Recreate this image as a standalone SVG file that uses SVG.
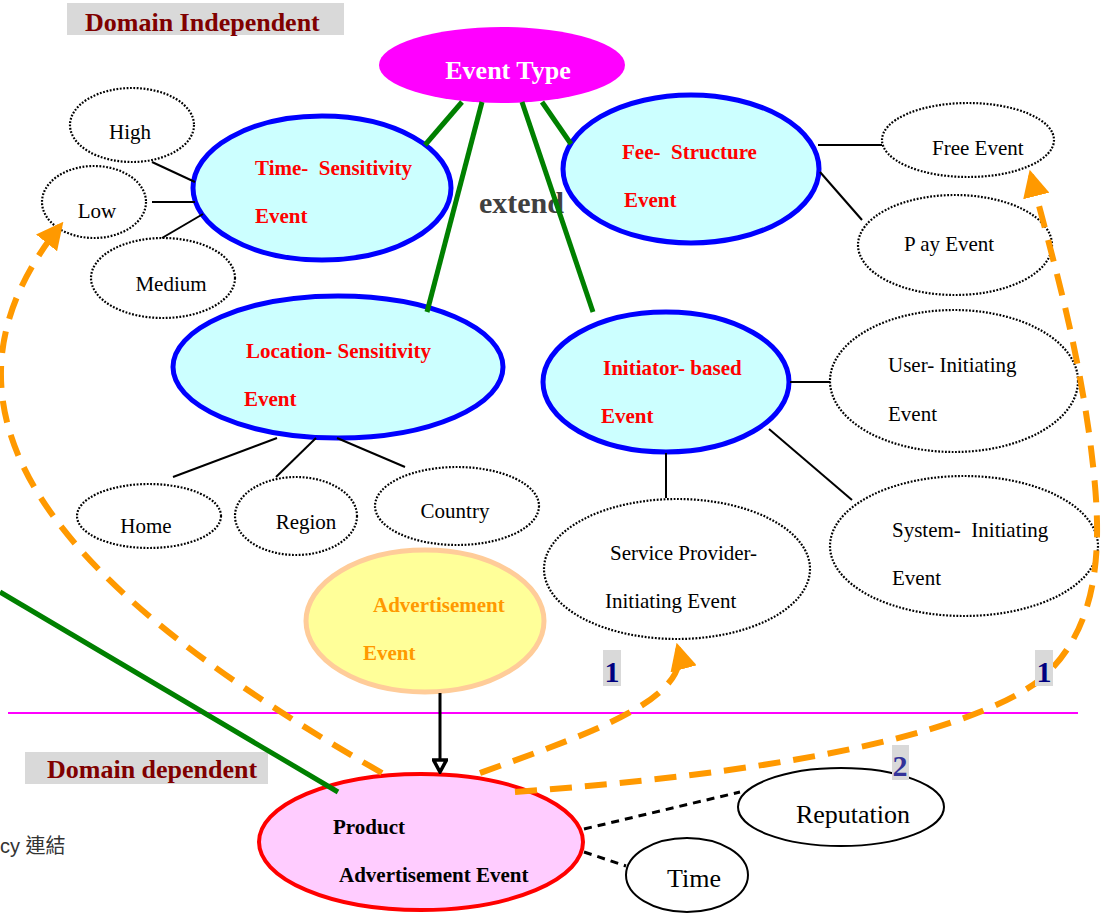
<svg xmlns="http://www.w3.org/2000/svg" width="1102" height="913" viewBox="0 0 1102 913">
  <style>
    text { font-family: "Liberation Serif", "Times New Roman", serif; }
    .cat { fill: #ccffff; stroke: #0000ff; stroke-width: 5; }
    .leaf { fill: #ffffff; stroke: #000000; stroke-width: 2.2; stroke-dasharray: 1.8 1.6; }
    .plain { fill: #ffffff; stroke: #000000; stroke-width: 2; }
    .catTxt { font-size: 21px; font-weight: bold; fill: #ff0000; }
    .leafTxt { font-size: 21px; fill: #000000; }
    .bigTxt { font-size: 26px; fill: #000000; }
    .band { fill: #d9d9d9; }
    .bandTxt { font-size: 26px; font-weight: bold; fill: #800000; }
    .num { font-size: 30px; font-weight: bold; fill: #000080; }
    .ext { stroke: #008000; stroke-width: 5; fill: none; }
    .thin { stroke: #000000; stroke-width: 2; fill: none; }
    .dash { stroke: #000000; stroke-width: 3; fill: none; stroke-dasharray: 8 6; }
    .ref { stroke: #ff9900; stroke-width: 6; fill: none; stroke-dasharray: 22 13; }
  </style>
  <defs>
    <marker id="orangeHead" viewBox="0 0 10 10" refX="8" refY="5" markerWidth="4.5" markerHeight="4.5" orient="auto" markerUnits="strokeWidth">
      <path d="M0,0 L10,5 L0,10 Z" fill="#ff9900"/>
    </marker>
    <marker id="blackHead" viewBox="0 0 16 16" refX="14" refY="8" markerWidth="16" markerHeight="16" orient="auto" markerUnits="userSpaceOnUse">
      <path d="M2,1.5 L14,8 L2,14.5 Z" fill="#ffffff" stroke="#000000" stroke-width="3.5" stroke-linejoin="miter"/>
    </marker>
  </defs>

  <rect width="1102" height="913" fill="#ffffff"/>

  <!-- section labels -->
  <g id="label-domain-independent">
    <rect class="band" x="67" y="3" width="277" height="32"/>
    <text class="bandTxt" x="85" y="31">Domain Independent</text>
  </g>
  <g id="label-domain-dependent">
    <rect class="band" x="25" y="752" width="243" height="32"/>
    <text class="bandTxt" x="47" y="778">Domain dependent</text>
  </g>

  <!-- boundary between independent and dependent parts -->
  <line x1="8" y1="713" x2="1078" y2="713" stroke="#ff00ff" stroke-width="2"/>

  <!-- root -->
  <g id="event-type">
    <ellipse cx="502" cy="65" rx="123" ry="38" fill="#ff00ff"/>
    <text x="508" y="79" text-anchor="middle" font-size="26" font-weight="bold" fill="#ffffff">Event Type</text>
  </g>
  <text id="extend-label" x="479" y="213" font-size="30" font-weight="bold" fill="#404040">extend</text>

  <!-- categories -->
  <g id="time-sensitivity">
    <ellipse class="cat" cx="322" cy="188" rx="129" ry="72"/>
    <text class="catTxt" x="255" y="175" xml:space="preserve">Time-  Sensitivity</text>
    <text class="catTxt" x="255" y="223">Event</text>
  </g>
  <g id="fee-structure">
    <ellipse class="cat" cx="691" cy="169" rx="128" ry="74"/>
    <text class="catTxt" x="622" y="159" xml:space="preserve">Fee-  Structure</text>
    <text class="catTxt" x="624" y="207">Event</text>
  </g>
  <g id="location-sensitivity">
    <ellipse class="cat" cx="338" cy="367" rx="165" ry="71"/>
    <text class="catTxt" x="246" y="358">Location- Sensitivity</text>
    <text class="catTxt" x="244" y="406">Event</text>
  </g>
  <g id="initiator-based">
    <ellipse class="cat" cx="666" cy="382" rx="123" ry="70"/>
    <text class="catTxt" x="603" y="375">Initiator- based</text>
    <text class="catTxt" x="601" y="423">Event</text>
  </g>

  <!-- time sensitivity values -->
  <g id="high">
    <ellipse class="leaf" cx="132" cy="125" rx="62" ry="37"/>
    <text class="leafTxt" x="130" y="139" text-anchor="middle">High</text>
  </g>
  <g id="low">
    <ellipse class="leaf" cx="94" cy="202" rx="52" ry="36"/>
    <text class="leafTxt" x="97" y="218" text-anchor="middle">Low</text>
  </g>
  <g id="medium">
    <ellipse class="leaf" cx="163" cy="278" rx="72" ry="40"/>
    <text class="leafTxt" x="171" y="291" text-anchor="middle">Medium</text>
  </g>

  <!-- fee structure values -->
  <g id="free-event">
    <ellipse class="leaf" cx="968" cy="140" rx="86" ry="37"/>
    <text class="leafTxt" x="932" y="155">Free Event</text>
  </g>
  <g id="pay-event">
    <ellipse class="leaf" cx="955" cy="245" rx="97" ry="50"/>
    <text class="leafTxt" x="904" y="251">P ay Event</text>
  </g>

  <!-- location values -->
  <g id="home">
    <ellipse class="leaf" cx="149" cy="516" rx="72" ry="32"/>
    <text class="leafTxt" x="146" y="533" text-anchor="middle">Home</text>
  </g>
  <g id="region">
    <ellipse class="leaf" cx="296" cy="516" rx="61" ry="39"/>
    <text class="leafTxt" x="306" y="529" text-anchor="middle">Region</text>
  </g>
  <g id="country">
    <ellipse class="leaf" cx="457" cy="506" rx="82" ry="39"/>
    <text class="leafTxt" x="455" y="518" text-anchor="middle">Country</text>
  </g>

  <!-- initiator values -->
  <g id="user-initiating">
    <ellipse class="leaf" cx="954" cy="381" rx="124" ry="71"/>
    <text class="leafTxt" x="888" y="372">User- Initiating</text>
    <text class="leafTxt" x="888" y="421">Event</text>
  </g>
  <g id="system-initiating">
    <ellipse class="leaf" cx="964" cy="546" rx="134" ry="70"/>
    <text class="leafTxt" x="892" y="537" xml:space="preserve">System-  Initiating</text>
    <text class="leafTxt" x="892" y="585">Event</text>
  </g>
  <g id="service-provider">
    <ellipse class="leaf" cx="677" cy="569" rx="133" ry="70"/>
    <text class="leafTxt" x="610" y="560">Service Provider-</text>
    <text class="leafTxt" x="605" y="608">Initiating Event</text>
  </g>

  <!-- advertisement -->
  <g id="advertisement-event">
    <ellipse cx="425" cy="621" rx="119" ry="71" fill="#ffff99" stroke="#ffcc99" stroke-width="5"/>
    <text class="catTxt" x="373" y="612" style="fill:#ff9900">Advertisement</text>
    <text class="catTxt" x="363" y="660" style="fill:#ff9900">Event</text>
  </g>

  <g id="product-advertisement-event">
    <ellipse cx="421" cy="842" rx="162" ry="68" fill="#ffccff" stroke="#ff0000" stroke-width="4"/>
    <text class="catTxt" x="333" y="834" style="fill:#000000">Product</text>
    <text class="catTxt" x="339" y="882" style="fill:#000000">Advertisement Event</text>
  </g>

  <g id="reputation">
    <ellipse class="plain" cx="841" cy="807" rx="103" ry="39"/>
    <text class="bigTxt" x="853" y="823" text-anchor="middle">Reputation</text>
  </g>
  <g id="time">
    <ellipse class="plain" cx="687" cy="875" rx="61" ry="37"/>
    <text class="bigTxt" x="694" y="887" text-anchor="middle">Time</text>
  </g>

  <!-- connectors -->
  <g id="connectors">
    <!-- extend links from Event Type -->
    <line class="ext" x1="462" y1="102" x2="425" y2="145"/>
    <line class="ext" x1="482" y1="102" x2="427" y2="312"/>
    <line class="ext" x1="522" y1="102" x2="593" y2="312"/>
    <line class="ext" x1="542" y1="102" x2="571" y2="144"/>
    <line class="ext" x1="0" y1="592" x2="338" y2="792"/>

    <!-- category to value links -->
    <line class="thin" x1="152" y1="162" x2="195" y2="182"/>
    <line class="thin" x1="152" y1="202" x2="195" y2="202"/>
    <line class="thin" x1="162" y1="238" x2="203" y2="214"/>
    <line class="thin" x1="818" y1="145" x2="882" y2="145"/>
    <line class="thin" x1="820" y1="172" x2="862" y2="220"/>
    <line class="thin" x1="277" y1="438" x2="173" y2="477"/>
    <line class="thin" x1="316" y1="438" x2="276" y2="477"/>
    <line class="thin" x1="337" y1="438" x2="405" y2="467"/>
    <line class="thin" x1="790" y1="382" x2="830" y2="382"/>
    <line class="thin" x1="769" y1="429" x2="852" y2="500"/>
    <line class="thin" x1="666" y1="453" x2="666" y2="498"/>

    <!-- advertisement specialisation -->
    <line x1="440" y1="693" x2="440" y2="772" stroke="#000000" stroke-width="3" marker-end="url(#blackHead)"/>

    <!-- product attributes -->
    <line class="dash" x1="584" y1="829" x2="740" y2="792"/>
    <line class="dash" x1="584" y1="852" x2="626" y2="866"/>

    <!-- references from the product event -->
    <path class="ref" d="M382,773 C70,595 -95,420 60,226" marker-end="url(#orangeHead)"/>
    <path class="ref" d="M480,773 C585,735 692,700 678,648" marker-end="url(#orangeHead)"/>
    <path class="ref" d="M515,792 C750,775 960,740 1040,680 C1110,620 1100,520 1090,440 C1075,330 1050,250 1031,175" marker-end="url(#orangeHead)"/>
  </g>

  <!-- reference counts -->
  <g id="count-provider">
    <rect class="band" x="603" y="650" width="18" height="36"/>
    <text class="num" x="612" y="682" text-anchor="middle">1</text>
  </g>
  <g id="count-free">
    <rect class="band" x="1035" y="650" width="18" height="36"/>
    <text class="num" x="1044" y="682" text-anchor="middle">1</text>
  </g>
  <g id="count-low">
    <rect class="band" x="892" y="745" width="17" height="35"/>
    <text class="num" x="900" y="776" text-anchor="middle" style="fill:#333399">2</text>
  </g>

  <text x="0" y="853" font-size="20" fill="#333333" style="font-family:'Liberation Sans','Noto Sans CJK TC',sans-serif">cy 連結</text>
</svg>
